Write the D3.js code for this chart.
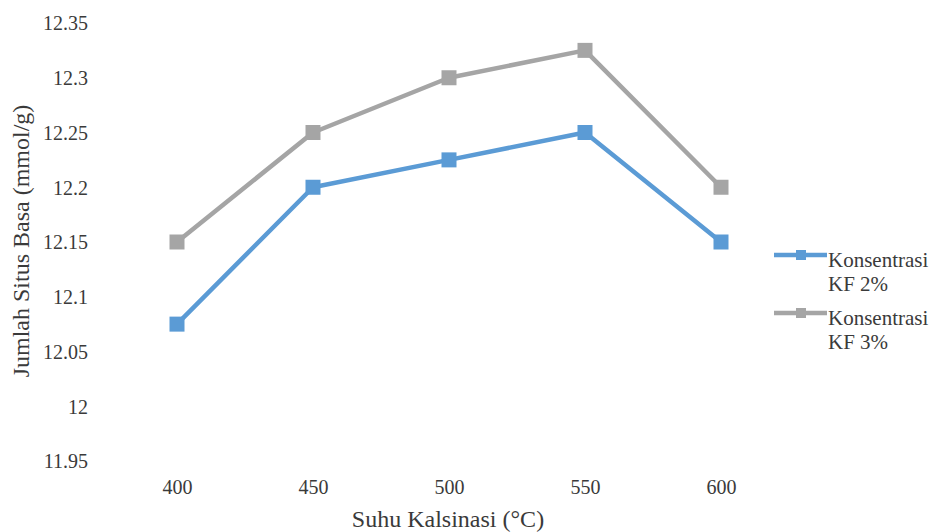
<!DOCTYPE html>
<html>
<head>
<meta charset="utf-8">
<script src="https://cdn.jsdelivr.net/npm/d3@7"></script>
<style>
  body { margin: 0; background: #fff; }
  svg text { font-family: "Liberation Serif", "Times New Roman", serif; fill: #3a3a3a; }
</style>
</head>
<body>
<div id="chart"></div>
<script>
// Data
var categories = ["400", "450", "500", "550", "600"];
var kf2 = [12.075, 12.2, 12.225, 12.25, 12.15];
var kf3 = [12.15, 12.25, 12.3, 12.325, 12.2];
var yTicks = [11.95, 12, 12.05, 12.1, 12.15, 12.2, 12.25, 12.3, 12.35];
var seriesNames = ["Konsentrasi KF 2%", "Konsentrasi KF 3%"];
var seriesColors = ["#5b9bd5", "#a5a5a5"];

var width = 934, height = 532;
var serif = "Liberation Serif";

var svg = d3.select("#chart").append("svg")
  .attr("width", width)
  .attr("height", height);

// Scales
var xScale = d3.scalePoint()
  .domain(categories)
  .range([177, 721]);

var yScale = d3.scaleLinear()
  .domain([11.95, 12.35])
  .range([461, 23]);

// Y axis (no line, no ticks, labels only)
var yAxis = d3.axisLeft(yScale)
  .tickValues(yTicks)
  .tickSize(0)
  .tickPadding(0)
  .tickFormat(function(d){ return String(+d.toFixed(2)); });

var gY = svg.append("g").attr("transform", "translate(88,0)").call(yAxis);
gY.attr("font-family", serif).attr("font-size", 20);
gY.select(".domain").remove();
gY.selectAll("text").attr("fill", "#3a3a3a").attr("dy", "0.34em");

// X axis (labels only)
var xAxis = d3.axisBottom(xScale).tickSize(0).tickPadding(0);
var gX = svg.append("g").attr("transform", "translate(0,480)").call(xAxis);
gX.attr("font-family", serif).attr("font-size", 20);
gX.select(".domain").remove();
gX.selectAll("text").attr("fill", "#3a3a3a").attr("dy", "0.72em");

// Axis titles
svg.append("text")
  .attr("x", 448)
  .attr("y", 527)
  .attr("text-anchor", "middle")
  .attr("font-family", serif)
  .attr("font-size", 24)
  .text("Suhu Kalsinasi (°C)");

svg.append("text")
  .attr("transform", "translate(29,241)rotate(-90)")
  .attr("text-anchor", "middle")
  .attr("font-family", serif)
  .attr("font-size", 24)
  .text("Jumlah Situs Basa (mmol/g)");

// Lines and markers
var line = d3.line()
  .x(function(d,i){ return xScale(categories[i]); })
  .y(function(d){ return yScale(d); });

[kf3, kf2].forEach(function(values, k){
  var color = k == 0 ? seriesColors[1] : seriesColors[0];
  svg.append("path")
    .datum(values)
    .attr("d", line)
    .attr("fill", "none")
    .attr("stroke", color)
    .attr("stroke-width", 4.5)
    .attr("stroke-linejoin", "round");

  svg.selectAll(null)
    .data(values)
    .enter()
    .append("rect")
    .attr("x", function(d,i){ return xScale(categories[i]) - 7.5; })
    .attr("y", function(d){ return yScale(d) - 7.5; })
    .attr("width", 15)
    .attr("height", 15)
    .attr("fill", color);
});

// Legend
var legend = svg.append("g").attr("class", "legend")
  .attr("font-family", serif).attr("font-size", 21);
seriesNames.forEach(function(name, i){
  var y = 255 + i * 58;
  legend.append("line")
    .attr("x1", 774).attr("x2", 827)
    .attr("y1", y).attr("y2", y)
    .attr("stroke", seriesColors[i])
    .attr("stroke-width", 4.5);
  legend.append("rect")
    .attr("x", 796).attr("y", y - 5)
    .attr("width", 10).attr("height", 10)
    .attr("fill", seriesColors[i]);
  var parts = name.split(" KF");
  legend.append("text")
    .attr("x", 828).attr("y", y + 12)
    .text(parts[0]);
  legend.append("text")
    .attr("x", 828).attr("y", y + 36)
    .text("KF" + parts[1]);
});
</script>
</body>
</html>
